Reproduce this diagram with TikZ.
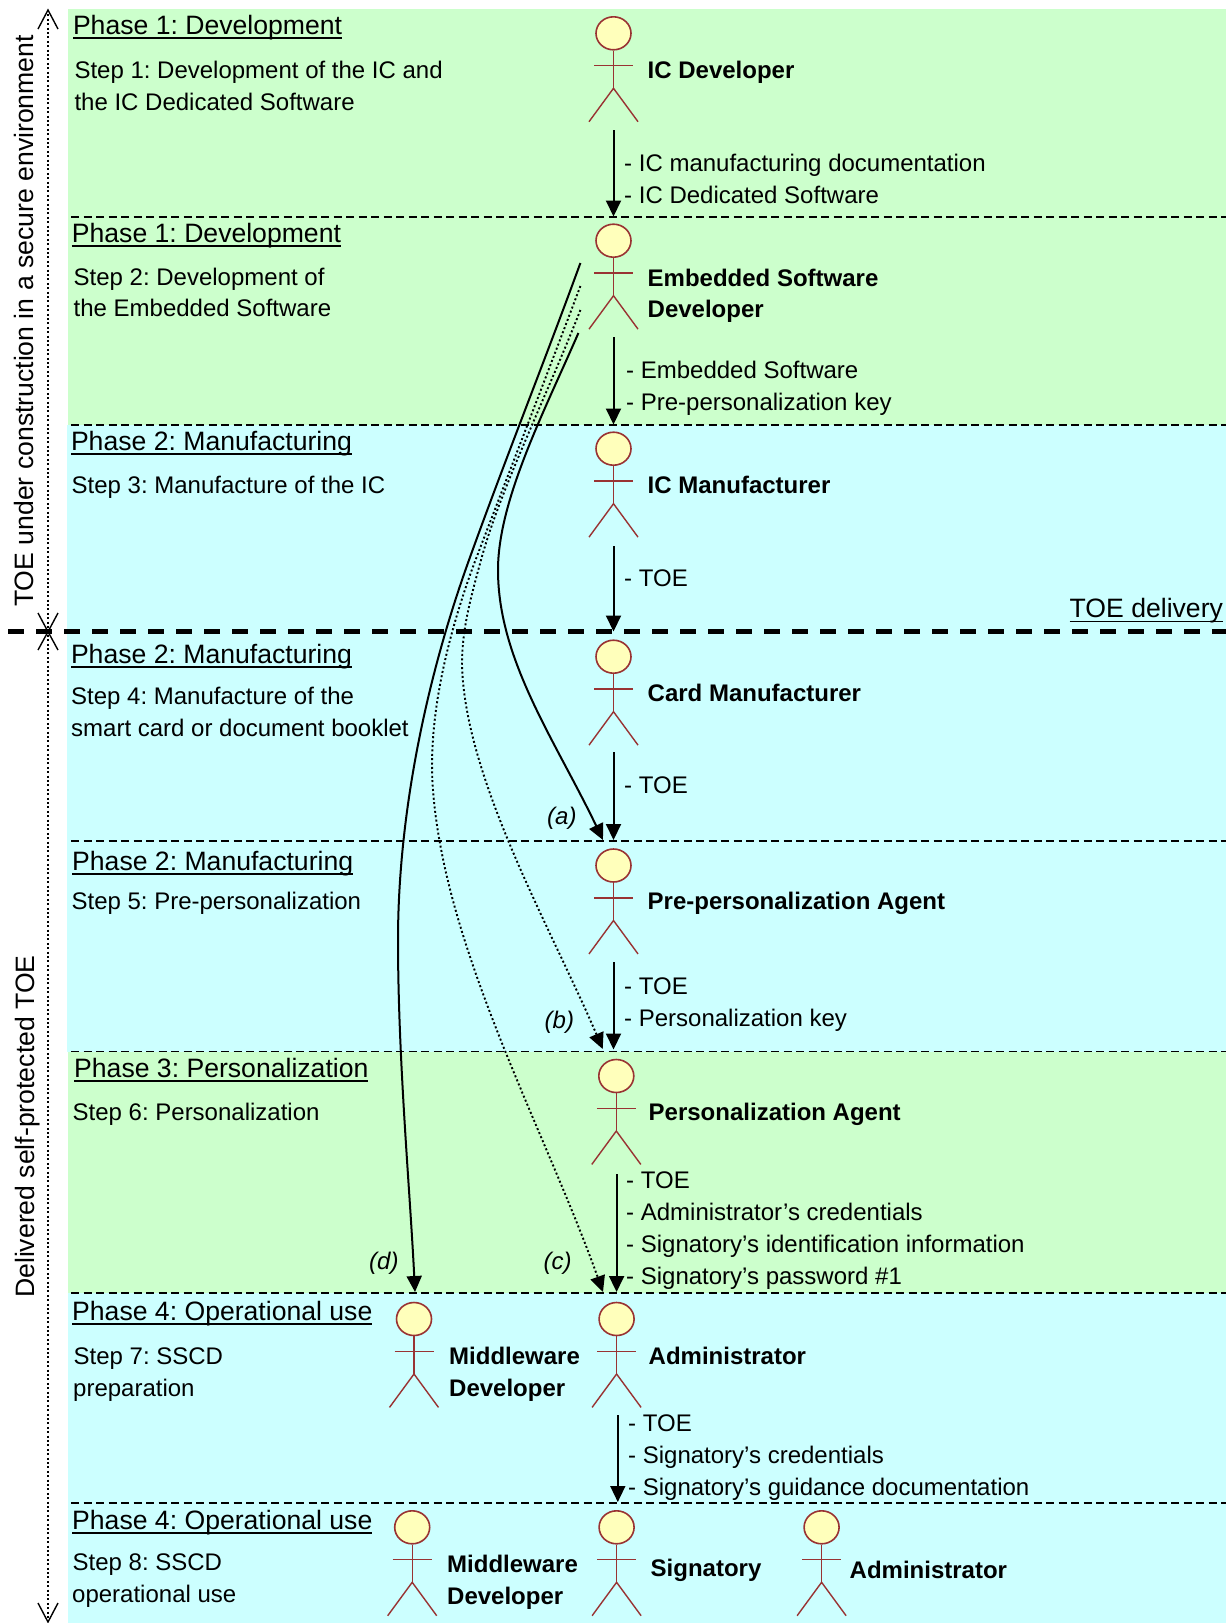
\documentclass[tikz,border=0pt]{standalone}
\usepackage{fontspec}
\setmainfont{Liberation Sans}
\frenchspacing
\usetikzlibrary{arrows.meta,shapes.geometric}
\definecolor{bandgreen}{HTML}{CCFFCC}
\definecolor{bandcyan}{HTML}{CCFFFF}
\definecolor{actorfill}{HTML}{FFFFBB}
\definecolor{actorline}{HTML}{993333}
\newcommand\phasetxt[1]{\setbox0\hbox{#1}\rlap{\raisebox{-4.6pt}{\rule{\wd0}{1.8pt}}}#1}
\tikzset{
  x=1pt,y=-1pt,
  titlenode/.style={anchor=base west,inner sep=0pt,font=\fontsize{26.6}{30}\selectfont},
  textnode/.style={anchor=base west,inner sep=0pt,font=\fontsize{24}{28}\selectfont},
  namenode/.style={anchor=base west,inner sep=0pt,font=\fontsize{24}{28}\selectfont\bfseries},
  tagnode/.style={anchor=base west,inner sep=0pt,font=\fontsize{24}{28}\selectfont\itshape},
  axistext/.style={anchor=base west,inner sep=0pt,rotate=90,font=\fontsize{26.6}{30}\selectfont},
  headnode/.style={ellipse,draw=actorline,fill=actorfill,line width=1.6pt,minimum width=35pt,minimum height=33pt,inner sep=0pt},
  limb/.style={draw=actorline,line width=1.4pt},
  flow/.style={draw=black,line width=2pt,-{Triangle[length=16pt,width=15pt]}},
  flowdot/.style={draw=black,line width=1.9pt,dash pattern=on 2pt off 2.4pt,-{Triangle[length=16pt,width=15pt]}},
  sep/.style={draw=black,line width=1.9pt,dash pattern=on 8pt off 4.5pt},
  heavy/.style={draw=black,line width=4.6pt,dash pattern=on 15.5pt off 12.5pt},
  axisline/.style={draw=black,line width=1.6pt,dash pattern=on 2pt off 2.4pt},
  barb/.style={draw=black,line width=1.4pt,line join=miter},
}
\newcommand\actor[3]{%
  \node[headnode] (#1) at (#2,#3) {};
  \draw[limb] (#1.south) -- ++(0,39);
  \draw[limb] (#2-19.5,#3+32.4) -- (#2+19.5,#3+32.4);
  \draw[limb] (#2-24.5,#3+88.4) -- (#2,#3+55) -- (#2+24.5,#3+88.4);
}
\begin{document}
\begin{tikzpicture}
\useasboundingbox (0,0) rectangle (1226,1623);
% bands
\fill[bandgreen] (68,9) rectangle (1226,425);
\fill[bandcyan] (67,425) rectangle (1226,1052);
\fill[bandgreen] (68,1052) rectangle (1226,1293);
\fill[bandcyan] (68,1293) rectangle (1226,1623);
% separators
\coordinate (s1a) at (71,216.7); \coordinate (s1b) at (1226,216.7);
\coordinate (s2a) at (71,425); \coordinate (s2b) at (1226,425);
\coordinate (s3a) at (8,631.7); \coordinate (s3b) at (1226,631.7);
\coordinate (s4a) at (71,841); \coordinate (s4b) at (1226,841);
\coordinate (s5a) at (71,1051.5); \coordinate (s5b) at (1226,1051.5);
\coordinate (s6a) at (71,1292.7); \coordinate (s6b) at (1226,1292.7);
\coordinate (s7a) at (71,1502.7); \coordinate (s7b) at (1226,1502.7);
\draw[sep] (s1a) -- (s1b);
\draw[sep] (s2a) -- (s2b);
\draw[heavy] (s3a) -- (s3b);
\draw[sep] (s4a) -- (s4b);
\draw[sep] (s5a) -- (s5b);
\draw[sep] (s6a) -- (s6b);
\draw[sep] (s7a) -- (s7b);
% lifetime axis
\coordinate (axtop) at (48,10);
\coordinate (axmid) at (48,631.7);
\coordinate (axbot) at (48,1622);
\draw[axisline] (axtop) -- (axbot);
\draw[barb] (38,29) -- (axtop) -- (58,29);
\draw[barb] (38,613) -- (axmid) -- (58,613);
\draw[barb] (38,650) -- (axmid) -- (58,650);
\draw[barb] (38,1603) -- (axbot) -- (58,1603);
\node[axistext] (lab1) at (33.5,607) {TOE under construction in a secure environment};
\node[axistext] (lab2) at (34.5,1298) {Delivered self-protected TOE};
% actors
\actor{a1}{613.5}{33.3}
\actor{a2}{613.5}{240.7}
\actor{a3}{613.5}{448.7}
\actor{a4}{613.5}{656.7}
\actor{a5}{613.5}{865.5}
\actor{a6}{616.3}{1076}
\actor{a7}{616.6}{1319}
\actor{a7b}{414}{1319}
\actor{a8}{616.6}{1527.3}
\actor{a8b}{412.2}{1527.3}
\actor{a8c}{821.6}{1527.3}
% vertical flows
\coordinate (f1s) at (613.5,130); \coordinate (f1e) at (613.5,216.5);
\coordinate (f2s) at (613.5,337); \coordinate (f2e) at (613.5,424.5);
\coordinate (f3s) at (613.5,546); \coordinate (f3e) at (613.5,631.5);
\coordinate (f4s) at (613.5,752); \coordinate (f4e) at (613.5,840);
\coordinate (f5s) at (613.5,962); \coordinate (f5e) at (613.5,1049.5);
\coordinate (f6s) at (616.6,1174); \coordinate (f6e) at (616.6,1292);
\coordinate (f7s) at (617.8,1415); \coordinate (f7e) at (617.8,1502);
\draw[flow] (f1s) -- (f1e);
\draw[flow] (f2s) -- (f2e);
\draw[flow] (f3s) -- (f3e);
\draw[flow] (f4s) -- (f4e);
\draw[flow] (f5s) -- (f5e);
\draw[flow] (f6s) -- (f6e);
\draw[flow,line width=1.6pt] (f7s) -- (f7e);
% curved flows
\coordinate (cds) at (580.4,263); \coordinate (cde) at (415,1292);
\coordinate (ccs) at (580.4,286); \coordinate (cce) at (603,1292);
\coordinate (cbs) at (580.4,310); \coordinate (cbe) at (602.7,1049);
\coordinate (cas) at (578.4,333); \coordinate (cae) at (603,840);
\draw[flow] (cas) .. controls (545,410) and (498,500) .. (498,570) .. controls (498,660) and (555,740) .. (cae);
\draw[flowdot] (cbs) .. controls (545,400) and (500,490) .. (481,560) .. controls (470,600) and (462,630) .. (462,665) .. controls (465,780) and (552,930) .. (cbe);
\draw[flowdot] (ccs) .. controls (545,380) and (510,470) .. (475.5,560) .. controls (450,628) and (427,715) .. (433,790) .. controls (445,950) and (545,1130) .. (cce);
\draw[flow] (cds) .. controls (545,360) and (505,460) .. (469,560) .. controls (424,685) and (398,820) .. (398,940) .. controls (398,1060) and (410,1190) .. (cde);
% phase titles
\node[titlenode] (p1) at (72.8,34.3) {\phasetxt{Phase 1: Development}};
\node[titlenode] (p2) at (71.7,242.5) {\phasetxt{Phase 1: Development}};
\node[titlenode] (p3) at (70.8,450) {\phasetxt{Phase 2: Manufacturing}};
\node[titlenode] (p4) at (70.8,663.3) {\phasetxt{Phase 2: Manufacturing}};
\node[titlenode] (p5) at (72,870) {\phasetxt{Phase 2: Manufacturing}};
\node[titlenode] (p6) at (74,1077.6) {\phasetxt{Phase 3: Personalization}};
\node[titlenode] (p7) at (72,1320) {\phasetxt{Phase 4: Operational use}};
\node[titlenode] (p8) at (72,1529.6) {\phasetxt{Phase 4: Operational use}};
\node[titlenode] (tdl) at (1069.5,617.7) {\phasetxt{TOE delivery}};
% steps
\node[textnode] (t1a) at (74.3,78.3) {Step 1: Development of the IC and};
\node[textnode] (t1b) at (74.3,110.6) {the IC Dedicated Software};
\node[textnode] (t2a) at (73.5,285.7) {Step 2: Development of};
\node[textnode] (t2b) at (73.5,316.7) {the Embedded Software};
\node[textnode] (t3a) at (71.5,493.7) {Step 3: Manufacture of the IC};
\node[textnode] (t4a) at (71,704.3) {Step 4: Manufacture of the};
\node[textnode] (t4b) at (71,736.7) {smart card or document booklet};
\node[textnode] (t5a) at (71.4,909) {Step 5: Pre-personalization};
\node[textnode] (t6a) at (72.5,1120.5) {Step 6: Personalization};
\node[textnode] (t7a) at (73.5,1364) {Step 7: SSCD};
\node[textnode] (t7b) at (73,1396) {preparation};
\node[textnode] (t8a) at (72.5,1570) {Step 8: SSCD};
\node[textnode] (t8b) at (72,1602) {operational use};
% actor names
\node[namenode] (n1) at (647.5,78.3) {IC Developer};
\node[namenode] (n2a) at (647.5,286.5) {Embedded Software};
\node[namenode] (n2b) at (647.5,317.7) {Developer};
\node[namenode] (n3) at (647.5,493.7) {IC Manufacturer};
\node[namenode] (n4) at (647.5,701) {Card Manufacturer};
\node[namenode] (n5) at (647.5,909) {Pre-personalization Agent};
\node[namenode] (n6) at (648.5,1120.5) {Personalization Agent};
\node[namenode] (n7a) at (449,1364.5) {Middleware};
\node[namenode] (n7b) at (449,1396.5) {Developer};
\node[namenode] (n7c) at (648.5,1364.5) {Administrator};
\node[namenode] (n8a) at (447,1572) {Middleware};
\node[namenode] (n8b) at (447,1604) {Developer};
\node[namenode] (n8c) at (650.5,1576) {Signatory};
\node[namenode] (n8d) at (849.5,1578) {Administrator};
% flow labels
\node[textnode] (l1a) at (624,171.5) {- IC manufacturing documentation};
\node[textnode] (l1b) at (624,203.6) {- IC Dedicated Software};
\node[textnode] (l2a) at (626,378.8) {- Embedded Software};
\node[textnode] (l2b) at (626,410) {- Pre-personalization key};
\node[textnode] (l3) at (624,586) {- TOE};
\node[textnode] (l4) at (624,793) {- TOE};
\node[textnode] (l5a) at (624,994) {- TOE};
\node[textnode] (l5b) at (624,1026.8) {- Personalization key};
\node[textnode] (l6a) at (626,1188) {- TOE};
\node[textnode] (l6b) at (626,1220) {- Administrator’s credentials};
\node[textnode] (l6c) at (626,1252) {- Signatory’s identification information};
\node[textnode] (l6d) at (626,1284) {- Signatory’s password \#1};
\node[textnode] (l7a) at (628,1431.5) {- TOE};
\node[textnode] (l7b) at (628,1463.5) {- Signatory’s credentials};
\node[textnode] (l7c) at (628,1495.5) {- Signatory’s guidance documentation};
% tags
\node[tagnode] (ta) at (547,824) {(a)};
\node[tagnode] (tb) at (544.5,1028) {(b)};
\node[tagnode] (tc) at (543.5,1269) {(c)};
\node[tagnode] (td) at (369,1269) {(d)};
\end{tikzpicture}
\end{document}
